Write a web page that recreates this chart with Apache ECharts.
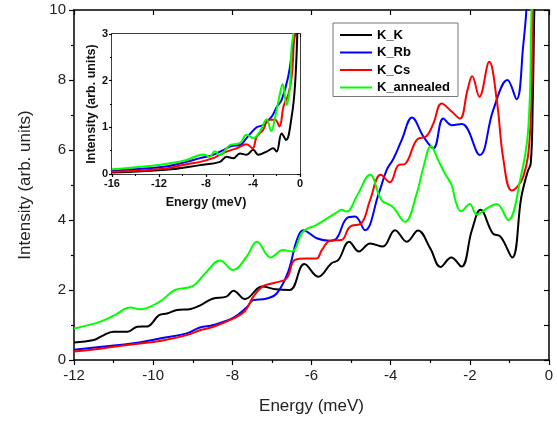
<!DOCTYPE html>
<html>
<head>
<meta charset="UTF-8">
<title>Intensity vs energy</title>
<script src="https://cdn.jsdelivr.net/npm/echarts@6/dist/echarts.min.js"></script>
<style>
  html, body { margin: 0; padding: 0; background: #fff; }
  #chart { width: 557px; height: 421px; }
</style>
</head>
<body>
<div id="chart"></div>
<script>
// names of the samples
const seriesNames = ['K_K', 'K_Rb', 'K_Cs', 'K_annealed'];
const colors = ['#000000', '#0000ff', '#ff0000', '#00ff00'];

// main panel, [energy meV, intensity]
const mainKK = [[-12,0.50],[-11.5,0.57],[-11.3,0.68],[-11.0,0.81],[-10.65,0.81],[-10.4,0.95],[-10.15,0.96],[-9.85,1.28],[-9.65,1.33],[-9.4,1.43],[-9.05,1.46],[-8.8,1.57],[-8.5,1.75],[-8.15,1.81],[-7.97,1.98],[-7.68,1.74],[-7.25,2.10],[-6.9,2.02],[-6.55,2.0],[-6.18,2.74],[-5.83,2.38],[-5.5,2.76],[-5.32,2.86],[-5.05,3.38],[-4.8,3.1],[-4.52,3.33],[-4.2,3.24],[-3.89,3.71],[-3.59,3.38],[-3.31,3.70],[-3.0,3.19],[-2.74,2.66],[-2.47,2.93],[-2.21,2.67],[-1.95,3.7],[-1.73,4.29],[-1.42,3.62],[-1.22,3.52],[-0.93,2.93],[-0.7,4.65],[-0.54,5.38],[-0.46,5.62],[-0.41,7.4],[-0.36,10.5],[-0.3,12]];
const mainKRb = [[-12,0.29],[-11.3,0.38],[-10.5,0.48],[-9.8,0.62],[-9.15,0.76],[-8.82,0.93],[-8.48,1.0],[-7.97,1.21],[-7.64,1.5],[-7.47,1.71],[-7.15,1.75],[-6.88,1.9],[-6.59,2.52],[-6.37,3.43],[-6.21,3.71],[-5.87,3.48],[-5.53,3.41],[-5.36,3.48],[-5.11,4.05],[-4.9,4.10],[-4.65,3.71],[-4.3,4.76],[-4.1,5.43],[-3.93,5.75],[-3.72,6.29],[-3.46,6.93],[-3.17,6.38],[-2.92,6.05],[-2.67,6.90],[-2.46,6.71],[-2.2,6.74],[-1.75,5.86],[-1.41,7.14],[-1.05,8.0],[-0.82,7.45],[-0.65,9.0],[-0.56,10.2],[-0.5,12]];
const mainKCs = [[-12,0.24],[-11.3,0.33],[-10.5,0.45],[-9.8,0.55],[-9.15,0.71],[-8.82,0.85],[-8.48,0.95],[-7.97,1.19],[-7.68,1.4],[-7.47,1.81],[-7.22,2.11],[-6.95,2.2],[-6.63,2.33],[-6.42,2.86],[-6.12,2.9],[-5.87,2.9],[-5.74,3.14],[-5.53,3.41],[-5.24,3.43],[-5.03,3.81],[-4.73,3.92],[-4.52,4.57],[-4.25,5.29],[-4.02,5.08],[-3.8,5.57],[-3.64,5.6],[-3.34,6.29],[-3.09,6.4],[-2.92,6.76],[-2.71,7.33],[-2.46,7.1],[-2.25,6.9],[-2.06,7.71],[-1.94,8.11],[-1.76,7.52],[-1.51,8.52],[-1.32,7.43],[-1.15,5.71],[-0.94,4.84],[-0.65,5.24],[-0.48,6.48],[-0.43,8.5],[-0.39,10.5],[-0.33,12]];
const mainKAnn = [[-12,0.9],[-11.35,1.09],[-10.96,1.29],[-10.58,1.5],[-10.33,1.45],[-9.83,1.67],[-9.45,2.0],[-9.0,2.11],[-8.69,2.47],[-8.31,2.84],[-7.98,2.57],[-7.64,2.95],[-7.38,3.38],[-7.03,2.93],[-6.72,3.14],[-6.5,3.1],[-6.21,3.67],[-5.87,3.86],[-5.36,4.22],[-5.24,4.29],[-5.11,4.24],[-4.86,4.67],[-4.52,5.29],[-4.23,4.57],[-3.95,4.38],[-3.64,3.95],[-3.34,4.76],[-3.17,5.52],[-2.98,6.11],[-2.8,5.71],[-2.63,5.33],[-2.46,5.0],[-2.35,4.5],[-2.22,4.25],[-2.0,4.46],[-1.83,4.16],[-1.57,4.33],[-1.32,4.46],[-1.03,4.0],[-0.73,5.14],[-0.52,6.67],[-0.44,10],[-0.38,12]];

// inset panel
const insetKK = [[-16,0.03],[-11.4,0.09],[-8.5,0.19],[-6.82,0.26],[-6.25,0.37],[-5.68,0.34],[-5.11,0.44],[-4.55,0.41],[-3.98,0.52],[-3.55,0.41],[-2.84,0.48],[-2.27,0.55],[-1.99,0.48],[-1.56,0.87],[-1.19,0.73],[-0.71,1.23],[-0.43,1.88],[-0.23,3.0],[-0.15,4]];
const insetKRb = [[-16,0.07],[-11.4,0.16],[-9.66,0.26],[-8.5,0.34],[-7.39,0.41],[-6.25,0.55],[-5.83,0.6],[-5.11,0.62],[-4.55,0.77],[-3.69,1.0],[-3.13,1.05],[-2.41,1.23],[-1.99,1.43],[-1.56,1.59],[-1.0,2.09],[-0.62,2.73],[-0.43,3.0],[-0.3,4]];
const insetKCs = [[-16,0.05],[-11.4,0.12],[-9.66,0.21],[-8.5,0.26],[-7.39,0.34],[-6.82,0.41],[-6.25,0.48],[-5.4,0.55],[-4.55,0.64],[-4.03,0.55],[-3.69,0.8],[-3.13,0.95],[-2.7,1.16],[-2.13,1.16],[-1.75,1.02],[-1.4,1.45],[-1.0,1.7],[-0.7,2.1],[-0.5,3.0],[-0.35,4]];
const insetKAnn = [[-16,0.1],[-12.8,0.17],[-10.8,0.24],[-9.66,0.3],[-8.24,0.42],[-7.67,0.37],[-7.25,0.49],[-6.82,0.41],[-5.97,0.62],[-5.11,0.66],[-4.55,0.84],[-3.98,0.77],[-3.41,0.91],[-2.84,1.17],[-2.45,0.92],[-2.13,1.2],[-1.7,1.73],[-1.48,1.93],[-1.15,1.48],[-0.85,1.88],[-0.71,2.73],[-0.57,3.0],[-0.5,4]];

const font = 'Arial, "Liberation Sans", sans-serif';

function axisBase(min, max, interval, opts) {
  return Object.assign({
    type: 'value', min: min, max: max, interval: interval,
    axisLine: { show: true, onZero: false, lineStyle: { color: '#000', width: 1.5 } },
    axisTick: { show: true, length: 5, lineStyle: { color: '#000', width: 1.2 } },
    minorTick: { show: true, splitNumber: 2, length: 3, lineStyle: { color: '#000', width: 1.2 } },
    splitLine: { show: false }
  }, opts);
}

const chart = echarts.init(document.getElementById('chart'));

const mainLabel = { color: '#222', fontSize: 15, fontFamily: font, margin: 8 };
const insetLabel = { color: '#111', fontSize: 11, fontWeight: 'bold', fontFamily: font, margin: 4 };

const option = {
  animation: false,
  grid: [
    { left: 74, right: 8, top: 10, bottom: 61 },
    { left: 112, right: 257, top: 34, bottom: 247, show: true, backgroundColor: '#fff', borderWidth: 0, z: 5 }
  ],
  legend: {
    data: seriesNames,
    orient: 'vertical',
    left: 333, top: 23,
    padding: [5, 8, 2, 7],
    icon: 'rect',
    itemWidth: 32, itemHeight: 2, itemGap: 3.5,
    borderColor: '#777', borderWidth: 1,
    textStyle: { color: '#000', fontSize: 13, fontWeight: 'bold', fontFamily: font, lineHeight: 14 }
  },
  xAxis: [
    axisBase(-12, 0, 2, {
      gridIndex: 0, position: 'bottom',
      name: 'Energy (meV)', nameLocation: 'middle', nameGap: 38,
      nameTextStyle: { color: '#222', fontSize: 17, fontFamily: font },
      axisLabel: mainLabel
    }),
    axisBase(-12, 0, 2, {
      gridIndex: 0, position: 'top',
      axisTick: { show: true, inside: true, length: 5, lineStyle: { color: '#000', width: 1.2 } },
      minorTick: { show: false },
      axisLabel: { show: false }
    }),
    axisBase(-16, 0, 4, {
      gridIndex: 1, position: 'bottom',
      name: 'Energy (meV)', nameLocation: 'middle', nameGap: 22,
      nameTextStyle: { color: '#111', fontSize: 12.5, fontWeight: 'bold', fontFamily: font },
      axisTick: { show: true, length: 3, lineStyle: { color: '#000', width: 1.2 } },
      minorTick: { show: true, splitNumber: 2, length: 2, lineStyle: { color: '#000', width: 1 } },
      axisLabel: insetLabel
    }),
    axisBase(-16, 0, 4, {
      gridIndex: 1, position: 'top',
      axisTick: { show: true, inside: true, length: 3, lineStyle: { color: '#000', width: 1.2 } },
      minorTick: { show: false },
      axisLabel: { show: false }
    })
  ],
  yAxis: [
    axisBase(0, 10, 2, {
      gridIndex: 0, position: 'left',
      name: 'Intensity (arb. units)', nameLocation: 'middle', nameGap: 40,
      nameTextStyle: { color: '#222', fontSize: 17, fontFamily: font },
      axisLabel: mainLabel
    }),
    axisBase(0, 10, 2, {
      gridIndex: 0, position: 'right',
      axisTick: { show: true, inside: true, length: 5, lineStyle: { color: '#000', width: 1.2 } },
      minorTick: { show: true, splitNumber: 2, length: 5, lineStyle: { color: '#000', width: 1.2 } },
      axisLabel: { show: false }
    }),
    axisBase(0, 3, 1, {
      gridIndex: 1, position: 'left',
      name: 'Intensity (arb. units)', nameLocation: 'middle', nameGap: 11,
      nameTextStyle: { color: '#111', fontSize: 12.5, fontWeight: 'bold', fontFamily: font },
      axisTick: { show: true, length: 3, lineStyle: { color: '#000', width: 1.2 } },
      minorTick: { show: true, splitNumber: 2, length: 2, lineStyle: { color: '#000', width: 1 } },
      axisLabel: insetLabel
    }),
    axisBase(0, 3, 1, {
      gridIndex: 1, position: 'right',
      axisTick: { show: true, inside: true, length: 3, lineStyle: { color: '#000', width: 1.2 } },
      minorTick: { show: true, splitNumber: 2, length: 3, lineStyle: { color: '#000', width: 1 } },
      axisLabel: { show: false }
    })
  ],
  series: []
};

const mainData = [mainKK, mainKRb, mainKCs, mainKAnn];
const insetData = [insetKK, insetKRb, insetKCs, insetKAnn];

seriesNames.forEach(function (name, i) {
  option.series.push({
    name: name, type: 'line', xAxisIndex: 0, yAxisIndex: 0,
    data: mainData[i], smooth: 0.4, symbol: 'none', clip: true,
    lineStyle: { color: colors[i], width: 2 }, itemStyle: { color: colors[i] }
  });
});
seriesNames.forEach(function (name, i) {
  option.series.push({
    name: name, type: 'line', xAxisIndex: 2, yAxisIndex: 2,
    data: insetData[i], smooth: 0.4, symbol: 'none', clip: true, z: 6,
    lineStyle: { color: colors[i], width: 2 }, itemStyle: { color: colors[i] }
  });
});

chart.setOption(option);
</script>
</body>
</html>
